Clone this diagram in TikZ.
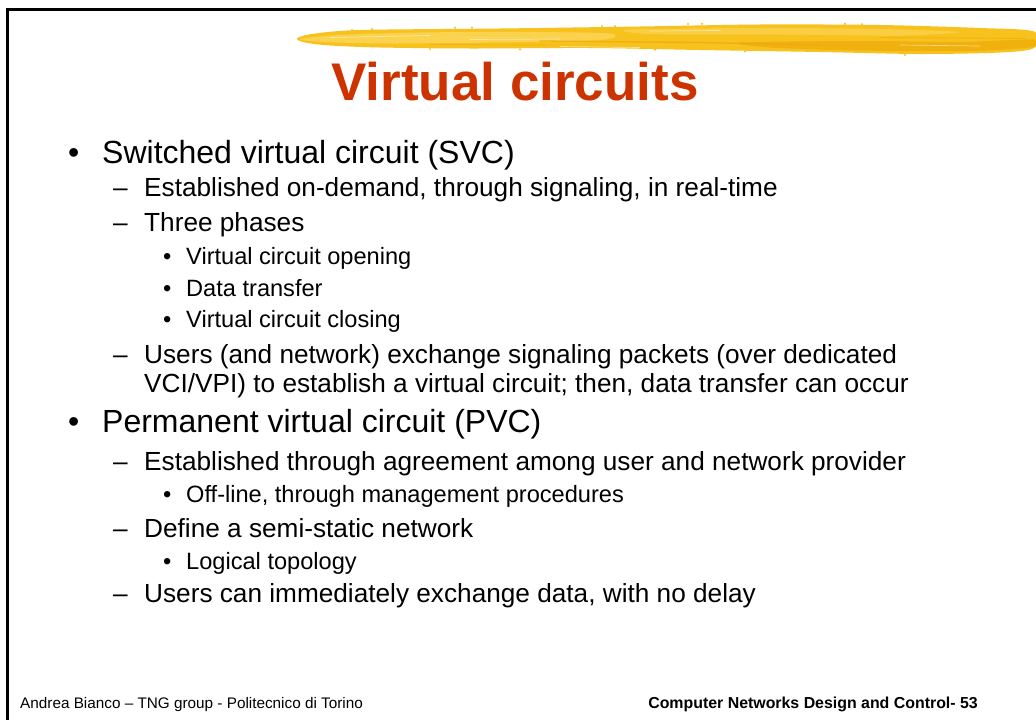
\documentclass[tikz,border=0pt]{standalone}
\usepackage{fontspec}
\setmainfont{Liberation Sans}[Ligatures=NoCommon]
\definecolor{titlered}{RGB}{204,51,0}
\definecolor{brushgold}{RGB}{247,194,30}
\definecolor{brushlight}{RGB}{251,215,90}
\definecolor{brushdark}{RGB}{238,170,10}
\tikzset{
  lvlone/.style={anchor=base west, inner sep=0pt, font=\fontsize{32}{38}\selectfont},
  lvltwo/.style={anchor=base west, inner sep=0pt, font=\fontsize{26.2}{31}\selectfont},
  lvlthree/.style={anchor=base west, inner sep=0pt, font=\fontsize{23.6}{28}\selectfont},
  footer/.style={anchor=base west, inner sep=0pt, font=\fontsize{15.3}{18}\selectfont},
  streak/.style={line cap=round, line width=#1},
}
\begin{document}
\begin{tikzpicture}[x=1pt,y=-1pt]
\useasboundingbox[fill=white] (0,0) rectangle (1036,720);

% frame along the left and top edges
\draw[line width=3pt, line join=miter] (7,720) -- (7,9.5) -- (1036,9.5);

% yellow dry-brush stroke above the title
\fill[brushgold] plot[smooth cycle, tension=0.5] coordinates {
  (297,38.5) (312,34) (360,30) (500,28.5) (640,26.5) (760,24.5) (880,25) (980,28) (1034,31.5)
  (1034,48) (1000,52.5) (920,54) (820,52) (700,50) (590,48) (470,48.5) (380,47.5) (330,45.5) (305,42.5)};
\fill[brushlight, opacity=0.8] plot[smooth cycle, tension=0.5] coordinates {
  (300,39) (340,35) (420,32.5) (520,32) (610,33.5) (600,40) (490,42.5) (390,43.5) (325,42)};
\fill[brushlight, opacity=0.6] plot[smooth cycle, tension=0.5] coordinates {
  (630,29.5) (760,28) (880,29) (960,32) (900,35.5) (780,34.5) (650,34)};
\fill[brushdark, opacity=0.7] plot[smooth cycle, tension=0.5] coordinates {
  (740,42.5) (860,41) (960,42) (1033,39.5) (1033,47) (970,51) (860,50.5) (770,47.5)};
% bristle texture
\draw[brushdark, streak=1.3pt, opacity=0.75] (540,41) -- (700,42.5) -- (820,45);
\draw[brushdark, streak=0.9pt, opacity=0.6] (880,37.5) -- (1025,38.5);
\draw[brushdark, streak=0.9pt, opacity=0.55] (430,44.5) -- (560,45);
\draw[white, streak=0.7pt, opacity=0.5] (330,37.5) -- (430,35.5) (470,39.5) -- (560,39) (650,31) -- (720,30.5) (900,45) -- (980,46) (560,46.5) -- (640,47.5);
\draw[brushlight, streak=0.9pt] (420,38) -- (560,37);
% ragged edge flecks
\foreach \fx/\fy in {352/30, 372/29.2, 455/27.8, 472/27.6, 602/26, 615/26.2, 688/24, 702/23.8, 845/23.9, 862/24.3, 1000/30.2, 1015/31, 430/49, 520/49.5, 655/49.6, 745/51.5, 905/55}
  \fill[brushgold] (\fx,\fy) circle[radius=1.2];

% title
\node[anchor=base, inner sep=0pt, text=titlered,
      font=\fontsize{53}{60}\selectfont\bfseries] (title) at (515,100) {Virtual circuits};

% switched virtual circuits
\node[lvlone] (b1) at (68,163) {•};
\node[lvlone] (t1) at (102,163) {Switched virtual circuit (SVC)};
\node[lvltwo] (b2) at (113,196) {–};
\node[lvltwo] (t2) at (144,196) {Established on-demand, through signaling, in real-time};
\node[lvltwo] (b3) at (113,231) {–};
\node[lvltwo] (t3) at (144,231) {Three phases};
\node[lvlthree] (b4) at (163,264) {•};
\node[lvlthree] (t4) at (186,264) {Virtual circuit opening};
\node[lvlthree] (b5) at (163,296) {•};
\node[lvlthree] (t5) at (186,296) {Data transfer};
\node[lvlthree] (b6) at (163,327) {•};
\node[lvlthree] (t6) at (186,327) {Virtual circuit closing};
\node[lvltwo] (b7) at (113,363) {–};
\node[lvltwo] (t7) at (144,363) {Users (and network) exchange signaling packets (over dedicated};
\node[lvltwo] (t7b) at (144,392) {VCI/VPI) to establish a virtual circuit; then, data transfer can occur};

% permanent virtual circuits
\node[lvlone] (b8) at (68,432) {•};
\node[lvlone] (t8) at (102,432) {Permanent virtual circuit (PVC)};
\node[lvltwo] (b9) at (113,470) {–};
\node[lvltwo] (t9) at (144,470) {Established through agreement among user and network provider};
\node[lvlthree] (b10) at (163,502) {•};
\node[lvlthree] (t10) at (186,502) {Off-line, through management procedures};
\node[lvltwo] (b11) at (113,537) {–};
\node[lvltwo] (t11) at (144,537) {Define a semi-static network};
\node[lvlthree] (b12) at (163,569) {•};
\node[lvlthree] (t12) at (186,569) {Logical topology};
\node[lvltwo] (b13) at (113,602) {–};
\node[lvltwo] (t13) at (144,602) {Users can immediately exchange data, with no delay};

% footer
\node[footer] (author) at (20,708) {Andrea Bianco – TNG group - Politecnico di Torino};
\node[footer, anchor=base east, font=\fontsize{15.9}{18}\selectfont\bfseries] (course) at (978,708)
  {Computer Networks Design and Control- 53};
\end{tikzpicture}
\end{document}
